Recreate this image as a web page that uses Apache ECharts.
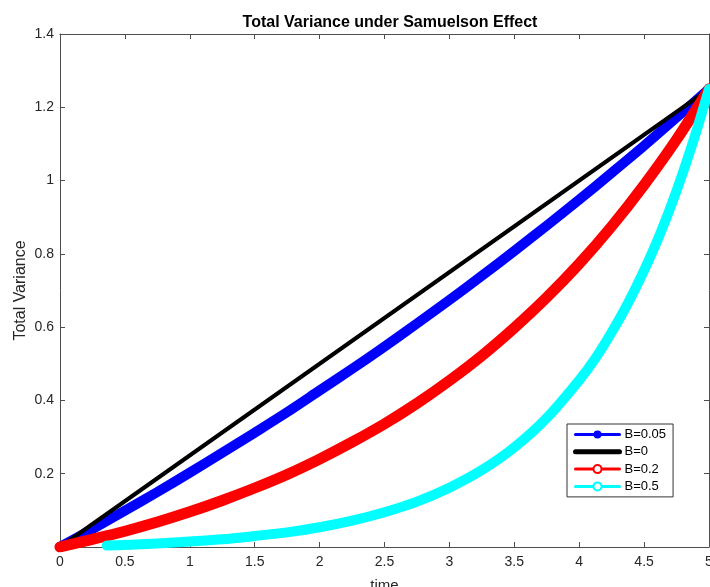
<!DOCTYPE html>
<html style="height: 100%">
<head>
<meta charset="utf-8">
<script src="https://cdn.jsdelivr.net/npm/echarts@6/dist/echarts.min.js"></script>
</head>
<body style="height: 100%; margin: 0">
<div id="container" style="width: 710px; height: 587px"></div>
<script type="text/javascript">
// time grid
var times = [0, 0.25, 0.5, 0.75, 1, 1.25, 1.5, 1.75, 2, 2.25, 2.5, 2.75, 3, 3.25, 3.5, 3.75, 4, 4.25, 4.5, 4.75, 5];
// B = 0.05
var blueVals = [0, 0.049, 0.099, 0.150, 0.203, 0.257, 0.312, 0.368, 0.427, 0.486, 0.547, 0.610, 0.674, 0.740, 0.808, 0.877, 0.948, 1.021, 1.095, 1.172, 1.25];
// B = 0 (straight line)
var blackTimes = [0, 5];
var blackVals = [0, 1.25];
// B = 0.2
var redVals = [0, 0.021, 0.043, 0.068, 0.096, 0.127, 0.161, 0.198, 0.240, 0.286, 0.336, 0.392, 0.454, 0.522, 0.598, 0.681, 0.773, 0.875, 0.988, 1.112, 1.25];
// B = 0.5 (starts later on the picture)
var cyanTimes = [0.36, 0.5, 0.75, 1, 1.25, 1.5, 1.75, 2, 2.25, 2.5, 2.75, 3, 3.25, 3.5, 3.75, 4, 4.125, 4.25, 4.375, 4.5, 4.625, 4.75, 4.875, 5];
var cyanVals = [0.004, 0.0055, 0.0095, 0.015, 0.021, 0.030, 0.040, 0.054, 0.072, 0.095, 0.124, 0.162, 0.210, 0.272, 0.352, 0.455, 0.515, 0.586, 0.665, 0.755, 0.856, 0.972, 1.103, 1.25];

var yTicks = ['0.2', '0.4', '0.6', '0.8', '1', '1.2', '1.4'];

function pairs(xs, ys) {
	return xs.map(function(x, i) { return [x, ys[i]]; });
}

var dom = document.getElementById("container");
var myChart = echarts.init(dom);
var axisCol = '#4d4d4d';
var txtCol = '#262626';

var option = {
	backgroundColor: '#ffffff',
	animation: false,
	textStyle: { fontFamily: 'Liberation Sans, Arial, sans-serif' },
	title: {
		text: 'Total Variance under Samuelson Effect',
		left: 385,
		top: 10,
		textAlign: 'center',
		textStyle: { fontSize: 16, fontWeight: 'bold', color: '#000' }
	},
	grid: { left: 60, right: 1, top: 34, bottom: 40, outerBoundsMode: 'none' },
	legend: {
		orient: 'vertical',
		left: 567,
		top: 424,
		itemWidth: 44,
		itemHeight: 10,
		itemGap: 4.3,
		padding: [4, 7, 4, 6],
		borderColor: '#333',
		borderWidth: 1,
		backgroundColor: '#fff',
		textStyle: { fontSize: 13, color: '#000' },
		lineStyle: { width: 3 },
		data: [
			{ name: 'B=0.05' },
			{ name: 'B=0', itemStyle: { opacity: 0 }, lineStyle: { width: 5 } },
			{ name: 'B=0.2' },
			{ name: 'B=0.5' }
		]
	},
	xAxis: [{
		type: 'value', min: 0, max: 5, interval: 0.5,
		name: 'time', nameLocation: 'middle', nameGap: 31,
		nameTextStyle: { fontSize: 15, color: txtCol },
		axisLine: { onZero: false, lineStyle: { color: axisCol } },
		axisTick: { inside: true, length: 5, lineStyle: { color: axisCol } },
		axisLabel: { fontSize: 14, color: txtCol, margin: 8 },
		splitLine: { show: false }
	}, {
		type: 'value', min: 0, max: 5, interval: 0.5, position: 'top',
		axisLine: { show: true, onZero: false, lineStyle: { color: axisCol } },
		axisTick: { inside: true, length: 5, lineStyle: { color: axisCol } },
		axisLabel: { show: false },
		splitLine: { show: false }
	}],
	yAxis: [{
		type: 'value', min: 0, max: 1.4, interval: 0.2,
		name: 'Total Variance', nameLocation: 'middle', nameGap: 31,
		nameMoveOverlap: false,
		nameTextStyle: { fontSize: 16, color: txtCol },
		axisLine: { show: true, onZero: false, lineStyle: { color: axisCol } },
		axisTick: { inside: true, length: 5, lineStyle: { color: axisCol } },
		axisLabel: {
			fontSize: 14, color: txtCol, margin: 6,
			formatter: function(v) {
				var s = String(Math.round(v * 10) / 10);
				return yTicks.indexOf(s) >= 0 ? s : '';
			}
		},
		splitLine: { show: false }
	}, {
		type: 'value', min: 0, max: 1.4, interval: 0.2, position: 'right',
		axisLine: { show: true, onZero: false, lineStyle: { color: axisCol } },
		axisTick: { inside: true, length: 5, lineStyle: { color: axisCol } },
		axisLabel: { show: false },
		splitLine: { show: false }
	}],
	series: [{
		name: 'B=0.05', type: 'line', smooth: 0.3,
		symbol: 'circle', showSymbol: false,
		color: '#0000ff',
		lineStyle: { width: 10, color: '#0000ff', cap: 'round', join: 'round' },
		data: pairs(times, blueVals)
	}, {
		name: 'B=0', type: 'line',
		symbol: 'none',
		color: '#000000',
		lineStyle: { width: 4, color: '#000000', cap: 'round' },
		data: pairs(blackTimes, blackVals)
	}, {
		name: 'B=0.2', type: 'line', smooth: 0.3,
		symbol: 'emptyCircle', showSymbol: false,
		color: '#ff0000',
		lineStyle: { width: 11, color: '#ff0000', cap: 'round', join: 'round' },
		data: pairs(times, redVals)
	}, {
		name: 'B=0.5', type: 'line', smooth: 0.3,
		symbol: 'emptyCircle', showSymbol: false,
		color: '#00ffff',
		lineStyle: { width: 10, color: '#00ffff', cap: 'round', join: 'round' },
		data: pairs(cyanTimes, cyanVals)
	}]
};

myChart.setOption(option, true);
</script>
</body>
</html>
